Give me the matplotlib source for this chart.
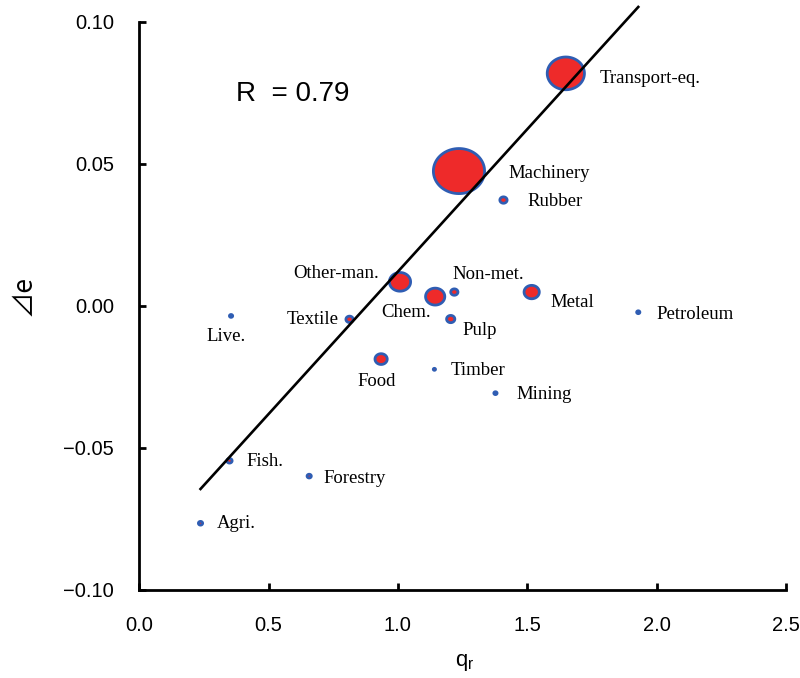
import numpy as np
import matplotlib
matplotlib.use("Agg")
import matplotlib.pyplot as plt
from matplotlib.path import Path

# sectors, q_r on x, delta-e on y, bubble weight (outer radius-ish units)
sectors = ["Agri.", "Live.", "Forestry", "Fish.", "Mining", "Food", "Textile",
           "Timber", "Pulp", "Chem.", "Petroleum", "Rubber", "Non-met.", "Metal",
           "Machinery", "Transport-eq.", "Other-man."]
q_r = [0.237, 0.355, 0.657, 0.349, 1.377, 0.935, 0.813,
       1.141, 1.204, 1.144, 1.929, 1.408, 1.218, 1.517,
       1.236, 1.649, 1.008]
delta_e = [-0.0765, -0.0035, -0.0599, -0.0545, -0.0307, -0.0187, -0.0047,
           -0.0223, -0.0046, 0.0033, -0.0022, 0.0373, 0.0049, 0.0049,
           0.0475, 0.0819, 0.0085]
weight = [3.5, 3.0, 3.5, 4.0, 3.0, 7.5, 5.0,
          2.5, 5.5, 11.0, 3.0, 5.0, 5.0, 9.0,
          27.0, 20.0, 12.0]

# fitted line
slope = 0.1003
intercept = -0.0882
r_value = 0.79

# label placement (pixels from point, horizontal alignment)
label_pos = {
    "Transport-eq.": (34, -5, "left"),
    "Machinery": (49, -2, "left"),
    "Rubber": (24, -1, "left"),
    "Non-met.": (-2, 18, "left"),
    "Metal": (19, -10, "left"),
    "Petroleum": (18, -2, "left"),
    "Pulp": (12, -11, "left"),
    "Chem.": (-4, -16, "right"),
    "Other-man.": (-21, 8, "right"),
    "Textile": (-11, 0, "right"),
    "Live.": (-5, -21, "center"),
    "Food": (-4, -22, "center"),
    "Timber": (16, -1, "left"),
    "Mining": (21, -1, "left"),
    "Fish.": (17, -1, "left"),
    "Forestry": (14, -2, "left"),
    "Agri.": (16, 0, "left"),
}

plt.rcParams["font.family"] = ["Liberation Sans", "DejaVu Sans"]
plt.rcParams["mathtext.fontset"] = "custom"
plt.rcParams["mathtext.rm"] = "Liberation Sans"

fig = plt.figure(figsize=(8, 6.78), dpi=100)
ax = fig.add_axes([0.174, 0.1298, 0.8085, 0.8378])

# slightly wide ellipse marker like the original
th = np.linspace(0, 2 * np.pi, 80)
ell = Path(np.column_stack([np.cos(th), 0.88 * np.sin(th)]), closed=True)

lw = 2.0
w = np.array(weight)
sizes = np.clip(2 * w * 0.72 - lw, 1.0, None) ** 2

# draw large bubbles first so small ones stay visible
order = np.argsort(-w)
ax.scatter(np.array(q_r)[order], np.array(delta_e)[order], s=sizes[order],
           marker=ell, facecolor="#ee2a2a", edgecolor="#2f5db3",
           linewidths=lw, zorder=3)

xs = np.array([min(q_r), max(q_r)])
ax.plot(xs, slope * xs + intercept, color="black", lw=1.9, zorder=4,
        clip_on=False)

for name, x, y in zip(sectors, q_r, delta_e):
    dx, dy, ha = label_pos[name]
    ax.annotate(name, (x, y), xytext=(dx, dy), textcoords="offset pixels",
                ha=ha, va="center", fontsize=13.5, family="Liberation Serif",
                color="black", zorder=5)

ax.text(0.15, 0.873, "R  = %.2f" % r_value, transform=ax.transAxes,
        fontsize=20, va="center", ha="left")

ax.set_xlim(0, 2.5)
ax.set_ylim(-0.10, 0.10)
ax.set_xticks([0.0, 0.5, 1.0, 1.5, 2.0, 2.5])
ax.set_yticks([-0.10, -0.05, 0.00, 0.05, 0.10])
ax.set_xticklabels(["0.0", "0.5", "1.0", "1.5", "2.0", "2.5"])
ax.set_yticklabels(["\u22120.10", "\u22120.05", "0.00", "0.05", "0.10"])

for s in ["top", "right"]:
    ax.spines[s].set_visible(False)
for s in ["left", "bottom"]:
    ax.spines[s].set_linewidth(2)
ax.tick_params(direction="in", length=5, width=2, labelsize=14.5)
ax.tick_params(axis="y", pad=18)
ax.tick_params(axis="x", pad=19)

ax.set_xlabel(r"q$_\mathregular{r}$", fontsize=16)
ax.set_ylabel("\u22bfe", fontsize=19, family=["Noto Sans CJK JP", "DejaVu Sans"])
ax.xaxis.set_label_coords(0.504, -0.127)
ax.yaxis.set_label_coords(-0.179, 0.519)
ax.xaxis.label.set_va("center")
ax.yaxis.label.set_va("center")

fig.savefig("out.png", dpi=100)
